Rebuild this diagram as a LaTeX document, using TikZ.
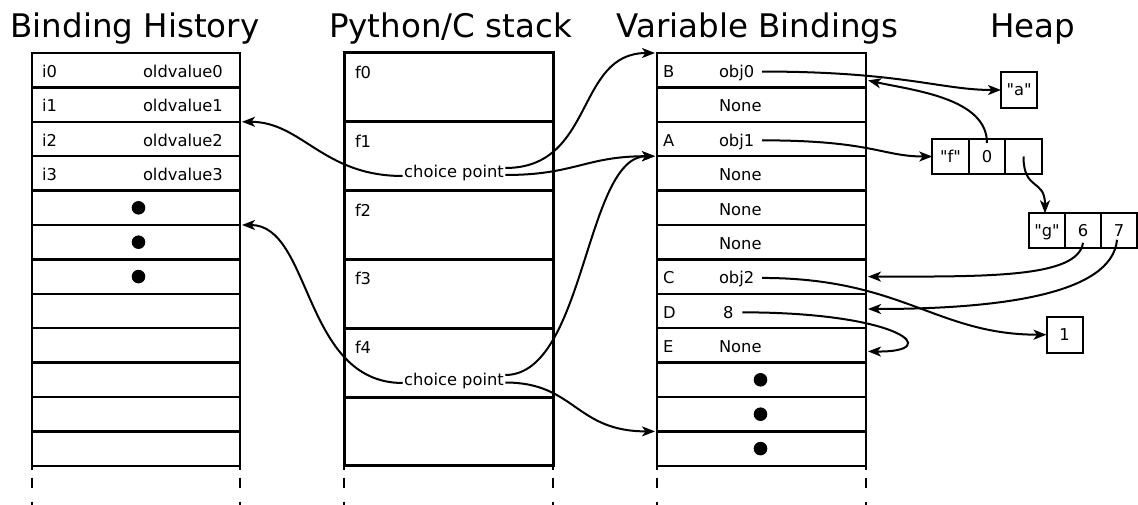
\documentclass[tikz,border=0pt]{standalone}
\usepackage{fontspec}
\setmainfont{DejaVu Sans}
% plain family without TeX ligatures, so that " stays a straight quote
\newfontfamily\cellfont{DejaVu Sans}
\usetikzlibrary{arrows.meta,calc}
\begin{document}
\begin{tikzpicture}[x=1pt,y=-1pt,
  every node/.style={outer sep=0pt, font=\cellfont\fontsize{16.3}{19.5}\selectfont},
  histcell/.style={draw, line width=2.3pt, minimum width=208pt, minimum height=34.4pt, inner sep=0pt, anchor=north west},
  bindcell/.style={histcell, minimum width=209pt},
  stackframe/.style={draw, line width=3pt, minimum width=209pt, minimum height=68.8pt, inner sep=0pt, anchor=north west},
  lbl/.style={anchor=base west, inner sep=0pt},
  vlbl/.style={lbl, text height=11.9pt, text depth=0pt},
  headline/.style={anchor=base, inner sep=0pt, font=\cellfont\fontsize{32.5}{38}\selectfont},
  cpt/.style={anchor=base, inner xsep=1.5pt, inner ysep=0pt, text height=12pt, text depth=4pt},
  dotmk/.style={circle, fill=black, minimum size=13.6pt, inner sep=0pt},
  heapbox/.style={draw, line width=2pt, minimum height=36pt, minimum width=36pt, inner sep=0pt, text height=11.9pt, text depth=0pt},
  heapcell/.style={heapbox, minimum width=36.5pt, minimum height=35pt},
  conn/.style={line width=2pt, -{Stealth[length=13pt,width=10pt,inset=3.5pt]}},
  tail/.style={line width=2.3pt},
  tailgap/.style={line width=2.3pt, dash pattern=on 10pt off 14pt}
]
\useasboundingbox (0,0) rectangle (1138,505);

% column headings
\node[headline] (t1) at (135,38) {Binding History};
\node[headline] (t2) at (450.5,38) {Python/C stack};
\node[headline] (t3) at (757.5,38) {Variable Bindings};
\node[headline] (t4) at (1032.5,38) {Heap};

% binding history
\foreach \i in {0,...,11} \node[histcell] (h\i) at (32,{53+34.4*\i}) {};
\foreach \i in {0,...,3} {
  \node[lbl] (hk\i) at (42,{53+34.4*\i+24.5}) {i\i};
  \node[lbl] (hv\i) at (143,{53+34.4*\i+24.5}) {oldvalue\i};
}
\foreach \i in {4,5,6} \node[dotmk] (hd\i) at ($(h\i.center)+(2.5,0)$) {};

% python/C stack frames
\foreach \i in {0,...,5} \node[stackframe] (s\i) at (344,{53+68.8*\i}) {};
\foreach \i in {0,...,4} \node[lbl] (sf\i) at (355,{53+68.8*\i+25.5}) {f\i};
\node[cpt] (cp1) at (454,178) {choice point};
\node[cpt] (cp2) at (454,385) {choice point};

% variable bindings
\foreach \i in {0,...,11} \node[bindcell] (v\i) at (657,{53+34.4*\i}) {};
\foreach \i/\lt in {0/B,2/A,6/C,7/D,8/E}
  \node[lbl] (vk\i) at (663,{53+34.4*\i+24.5}) {\lt};
\foreach \i/\tx in {0/obj0,1/None,2/obj1,3/None,4/None,5/None,6/obj2,8/None}
  \node[vlbl] (vv\i) at (719,{53+34.4*\i+24.5}) {\tx};
\node[vlbl] (vv7) at (723,{53+34.4*7+24.5}) {8};
\foreach \i in {9,10,11} \node[dotmk] (vd\i) at ($(v\i.center)+(-1,0)$) {};

% open-ended columns
\foreach \n in {h11,s5,v11} {
  \draw[tail] (\n.south west) -- ++(0,4.5);
  \draw[tail] (\n.south east) -- ++(0,4.5);
  \draw[tailgap] ($(\n.south west)+(0,12)$) -- ++(0,30);
  \draw[tailgap] ($(\n.south east)+(0,12)$) -- ++(0,30);
}

% heap objects
\node[heapbox] (ha) at (1019,90) {"a"};
\node[heapcell] (hf1) at (950.5,156.5) {"f"};
\node[heapcell] (hf2) at (987,156.5) {0};
\node[heapcell] (hf3) at (1023.5,156.5) {};
\node[heapcell, minimum width=36pt] (hg1) at (1047,230.8) {"g"};
\node[heapcell, minimum width=36pt] (hg2) at (1083,230.8) {6};
\node[heapcell, minimum width=36pt] (hg3) at (1119,230.8) {7};
\node[heapbox] (hone) at (1064.5,334.7) {1};

% references into the heap and back
\draw[conn] ($(vv0.east)+(8,0)$) .. controls ($(vv0.east)+(148,0)$) and ($(ha.west)+(-60,0)$) .. (ha.west);
\draw[conn] ($(hf2.north)+(0,4)$) .. controls ($(hf2.north)+(0,-41)$) and ($(v0.south east)+(47,3)$) .. ($(v0.south east)+(2,-7)$);
\draw[conn] ($(vv2.east)+(8,0)$) .. controls ($(vv2.east)+(118,0)$) and ($(hf1.west)+(-50,0)$) .. (hf1.west);
\draw[conn] (hf3.center) .. controls ($(hf3.center)+(0,35)$) and ($(hg1.north)+(-2,-35)$) .. ($(hg1.north)+(-2,0)$);
\draw[conn] ($(hg2.center)+(0,12)$) .. controls ($(hg2.center)+(-5,47)$) and ($(v6.east)+(122,0)$) .. ($(v6.east)+(2,0)$);
\draw[conn] ($(hg3.center)+(-2,9)$) .. controls ($(hg3.center)+(-7,64)$) and ($(v7.east)+(132,-2)$) .. ($(v7.east)+(2,-2)$);
\draw[conn] ($(vv6.east)+(8,0)$) .. controls ($(vv6.east)+(148,0)$) and ($(hone.west)+(-110,0)$) .. (hone.west);
\draw[conn] ($(vv7.east)+(9,0)$) .. controls ($(vv7.east)+(169,0)$) and ($(v8.east)+(79,7)$) .. ($(v8.east)+(2,6)$);

% choice points
\draw[conn] ($(cp1.west)+(0,2)$) .. controls ($(cp1.west)+(-80,2)$) and ($(h2.north east)+(62,0)$) .. ($(h2.north east)+(2,0)$);
\draw[conn] ($(cp1.east)+(0,-6)$) .. controls ($(cp1.east)+(90,-6)$) and ($(v0.north west)+(-82,0)$) .. ($(v0.north west)+(-2,0)$);
\draw[conn] ($(cp1.east)+(0,1)$) .. controls ($(cp1.east)+(70,1)$) and ($(v3.north west)+(-72,0)$) .. ($(v3.north west)+(-2,0)$);
\draw[conn] ($(cp2.west)+(0,2)$) .. controls ($(cp2.west)+(-100,2)$) and ($(h5.north east)+(72,0)$) .. ($(h5.north east)+(2,0)$);
\draw[conn] ($(cp2.east)+(0,-6)$) .. controls ($(cp2.east)+(80,-6)$) and ($(v3.north west)+(-72,0)$) .. ($(v3.north west)+(-2,0)$);
\draw[conn] ($(cp2.east)+(0,1.5)$) .. controls ($(cp2.east)+(70,1.5)$) and ($(v11.north west)+(-82,0)$) .. ($(v11.north west)+(-2,0)$);
\end{tikzpicture}
\end{document}
